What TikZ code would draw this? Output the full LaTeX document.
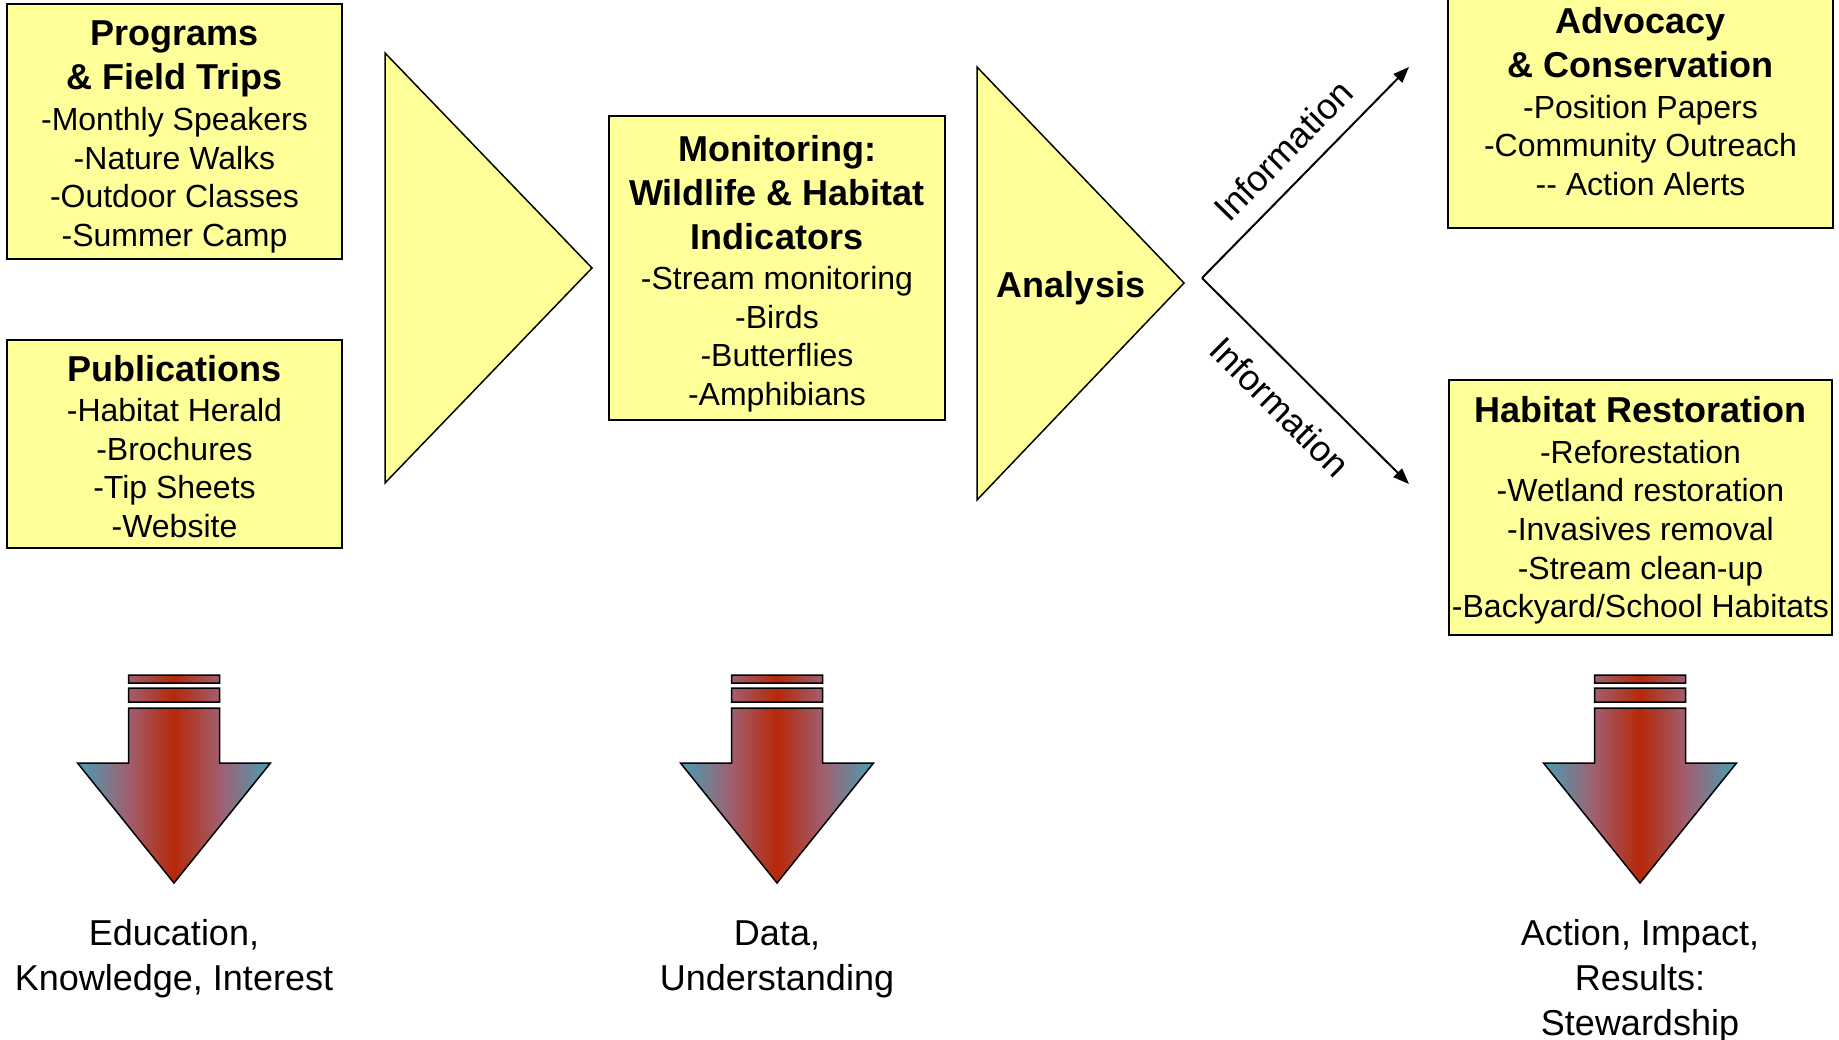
\documentclass[tikz,border=0pt]{standalone}
\usepackage{fontspec}
\setmainfont{Liberation Sans}
\usepackage{tikz}
\usetikzlibrary{positioning,arrows.meta}
\usepackage{xcolor}

\definecolor{boxyellow}{RGB}{255,255,153}
\definecolor{arrteal}{RGB}{72,158,182}
\definecolor{arrmauve}{RGB}{160,96,112}
\definecolor{arrred}{RGB}{182,40,10}

\pgfdeclarehorizontalshading{redfade}{100bp}{color(0bp)=(arrteal); color(25bp)=(arrteal); color(38bp)=(arrmauve); color(50bp)=(arrred); color(62bp)=(arrmauve); color(75bp)=(arrteal); color(100bp)=(arrteal)}

\newcommand{\boxhead}{\fontsize{36}{44}\selectfont\bfseries}
\newcommand{\boxitem}{\par\vspace{2pt}\fontsize{32}{38.6}\selectfont\mdseries}

\tikzset{
  ybox/.style={draw=black, line width=2pt, fill=boxyellow, inner sep=0pt},
  boxtext/.style={inner sep=0pt},
  ytri/.style={draw=black, line width=1.5pt, fill=boxyellow, line join=miter},
  darrow/.style={shading=redfade, draw=black, line width=1.5pt},
  infoline/.style={line width=2pt, -{Triangle[length=16pt,width=12pt]}},
  infotext/.style={font=\fontsize{36}{44}\selectfont, inner sep=0pt},
  outcome/.style={align=center, font=\fontsize{36}{45}\selectfont, inner sep=0pt}
}

\begin{document}
\begin{tikzpicture}[x=1pt, y=-1pt]
\useasboundingbox (0,0) rectangle (1839,1040);

\node[ybox, minimum width=335pt, minimum height=255pt] (prog) at (174.5,131.5) {};
\node[boxtext] (progtxt) at (174.5,137) {\parbox{335pt}{\centering\boxhead Programs\\ \& Field Trips\boxitem -Monthly Speakers\\ -Nature Walks\\ -Outdoor Classes\\ -Summer Camp}};
\node[ybox, minimum width=335pt, minimum height=208pt] (pubs) at (174.5,444) {};
\node[boxtext] (pubstxt) at (174.5,446.5) {\parbox{335pt}{\centering\boxhead Publications\boxitem -Habitat Herald\\ -Brochures\\ -Tip Sheets\\ -Website}};

\draw[ytri] (385,53) -- (592,268) -- (385,483) -- cycle;

\node[ybox, minimum width=336pt, minimum height=304pt] (monit) at (777,268) {};
\node[boxtext] (monittxt) at (777,273.5) {\parbox{336pt}{\centering\boxhead Monitoring:\\ Wildlife \& Habitat\\ Indicators\boxitem -Stream monitoring\\ -Birds\\ -Butterflies\\ -Amphibians}};

\draw[ytri] (977,67) -- (1184,283) -- (977,500) -- cycle;
\node[font=\fontsize{36}{44}\selectfont\bfseries] (ana) at (1071,288) {Analysis};

\coordinate (split) at (1202,278);
\coordinate (advin) at (1409,67);
\coordinate (habin) at (1409,484);
\draw[infoline] (split) -- node[midway, sloped, above=17pt, infotext] (info1) {Information} (advin);
\draw[infoline] (split) -- node[midway, sloped, below=22pt, infotext] (info2) {Information} (habin);

\node[ybox, minimum width=385pt, minimum height=231pt] (advo) at (1640.5,112.5) {};
\node[boxtext] (advotxt) at (1640.5,101.5) {\parbox{385pt}{\centering\boxhead Advocacy\\ \& Conservation\boxitem -Position Papers\\ -Community Outreach\\ -{}- Action Alerts}};

\node[ybox, minimum width=383pt, minimum height=255pt] (habi) at (1640.5,507.5) {};
\node[boxtext] (habitxt) at (1640.5,510.5) {\parbox{383pt}{\centering\boxhead Habitat Restoration\boxitem -Reforestation\\ -Wetland restoration\\ -Invasives removal\\ -Stream clean-up\\ -Backyard/School Habitats}};

% result arrows
\shadedraw[darrow] (128.5,675) rectangle (219.5,683) (128.5,688) rectangle (219.5,702) (128.5,708) -- (219.5,708) -- (219.5,763) -- (270.5,763) -- (174,883) -- (77.5,763) -- (128.5,763) -- cycle;
\shadedraw[darrow] (731.5,675) rectangle (822.5,683) (731.5,688) rectangle (822.5,702) (731.5,708) -- (822.5,708) -- (822.5,763) -- (873.5,763) -- (777,883) -- (680.5,763) -- (731.5,763) -- cycle;
\shadedraw[darrow] (1594.5,675) rectangle (1685.5,683) (1594.5,688) rectangle (1685.5,702) (1594.5,708) -- (1685.5,708) -- (1685.5,763) -- (1736.5,763) -- (1640,883) -- (1543.5,763) -- (1594.5,763) -- cycle;
\coordinate (tipa) at (174,883);
\coordinate (tipb) at (777,883);
\coordinate (tipc) at (1640,883);

\node[outcome, below=36pt of tipa] (educ) {Education,\\ Knowledge, Interest};
\node[outcome, below=38pt of tipb] (data) {Data,\\ Understanding};
\node[outcome, below=36pt of tipc] (acti) {Action, Impact,\\ Results:\\ Stewardship};
\end{tikzpicture}
\end{document}
